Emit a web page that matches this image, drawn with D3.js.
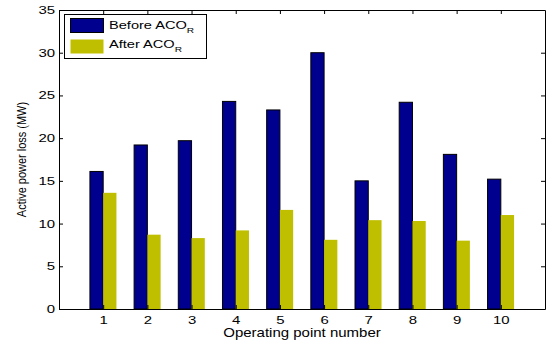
<!DOCTYPE html>
<meta charset="utf-8">
<script src="https://d3js.org/d3.v7.min.js"></script>
<style>
  body { margin: 0; background: #fff; }
  text { font-family: "Liberation Sans", Arial, sans-serif; }
</style>
<div id="chart"></div>
<script>

// operating points and losses (MW)
var points = [1, 2, 3, 4, 5, 6, 7, 8, 9, 10];
var before = [16.1, 19.2, 19.7, 24.3, 23.3, 30.0, 15.0, 24.2, 18.1, 15.2];
var after  = [13.6, 8.7, 8.3, 9.2, 11.6, 8.1, 10.4, 10.3, 8.0, 11.0];
var yTicks = [0, 5, 10, 15, 20, 25, 30, 35];

var W = 546, H = 344;
var mLeft = 59, mRight = 545, mTop = 10, mBottom = 309;
var sx = 1.3; // the original figure is stretched sideways

var svg = d3.select("#chart")
  .append("svg")
    .attr("width", W)
    .attr("height", H);

var x = d3.scaleLinear().domain([0, 11]).range([mLeft, mRight]);
var y = d3.scaleLinear().domain([0, 35]).range([mBottom, mTop]);
var bw = 0.3; // bar width in data units

// bars
svg.append("g")
  .selectAll("rect")
  .data(points)
  .enter()
  .append("rect")
    .attr("x", function(d) { return x(d - bw); })
    .attr("y", function(d, i) { return y(before[i]); })
    .attr("width", x(bw) - x(0))
    .attr("height", function(d, i) { return y(0) - y(before[i]); })
    .style("fill", "#00008f")
    .style("stroke", "#000")
    .style("stroke-width", 1);

svg.append("g")
  .selectAll("rect")
  .data(points)
  .enter()
  .append("rect")
    .attr("x", function(d) { return x(d); })
    .attr("y", function(d, i) { return y(after[i]); })
    .attr("width", x(bw) - x(0))
    .attr("height", function(d, i) { return y(0) - y(after[i]); })
    .style("fill", "#bfbf00");

// axes (matlab style box with inward ticks)
var axB = svg.append("g")
  .attr("transform", "translate(0," + mBottom + ")")
  .call(d3.axisBottom(x).tickValues(points).tickSizeInner(-4).tickSizeOuter(0).tickPadding(7));
var axT = svg.append("g")
  .attr("transform", "translate(0," + mTop + ")")
  .call(d3.axisTop(x).tickValues(points).tickSizeInner(-4).tickSizeOuter(0).tickFormat(""));
var axL = svg.append("g")
  .attr("transform", "translate(" + mLeft + ",0)")
  .call(d3.axisLeft(y).tickValues(yTicks).tickSizeInner(-4).tickSizeOuter(0).tickPadding(4));
var axR = svg.append("g")
  .attr("transform", "translate(" + mRight + ",0)")
  .call(d3.axisRight(y).tickValues(yTicks).tickSizeInner(-4).tickSizeOuter(0).tickFormat(""));

[axB, axT, axL, axR].forEach(function(a) {
  a.selectAll("path, line").style("stroke", "#000");
  a.selectAll("text").style("font-size", "11.5px").style("fill", "#000")
    .style("font-family", "'Liberation Sans', Arial, sans-serif")
    .attr("transform", "scale(" + sx + ",1)");
});
axL.selectAll(".tick text").attr("x", -4 / sx).attr("dy", "0.3em");

// axis labels
svg.append("text")
  .attr("transform", "translate(" + ((mLeft + mRight) / 2) + ",337) scale(1.2,1)")
  .attr("text-anchor", "middle")
  .style("font-size", "12.5px")
  .text("Operating point number");

svg.append("text")
  .attr("transform", "translate(26," + ((mTop + mBottom) / 2) + ") rotate(-90) scale(1,1.2)")
  .attr("text-anchor", "middle")
  .style("font-size", "11px")
  .text("Active power loss (MW)");

// legend
var lg = svg.append("g");
lg.append("rect")
  .attr("x", 64.5).attr("y", 14.5)
  .attr("width", 142).attr("height", 44)
  .style("fill", "#fff").style("stroke", "#000");

var legendItems = [
  { name: "Before ACO", color: "#00008f", stroke: "#000", base: 29 },
  { name: "After ACO", color: "#bfbf00", stroke: "none", base: 48 }
];
legendItems.forEach(function(d, i) {
  var yy = 18 + i * 21;
  lg.append("rect")
    .attr("x", 70.5).attr("y", yy + 0.5)
    .attr("width", 33).attr("height", 14)
    .style("fill", d.color).style("stroke", d.stroke);
  var t = lg.append("text")
    .attr("transform", "translate(109," + d.base + ") scale(1.27,1)")
    .style("font-size", "11.5px");
  t.append("tspan").text(d.name);
  t.append("tspan").attr("dy", 4).style("font-size", "8px").text("R");
});

</script>
